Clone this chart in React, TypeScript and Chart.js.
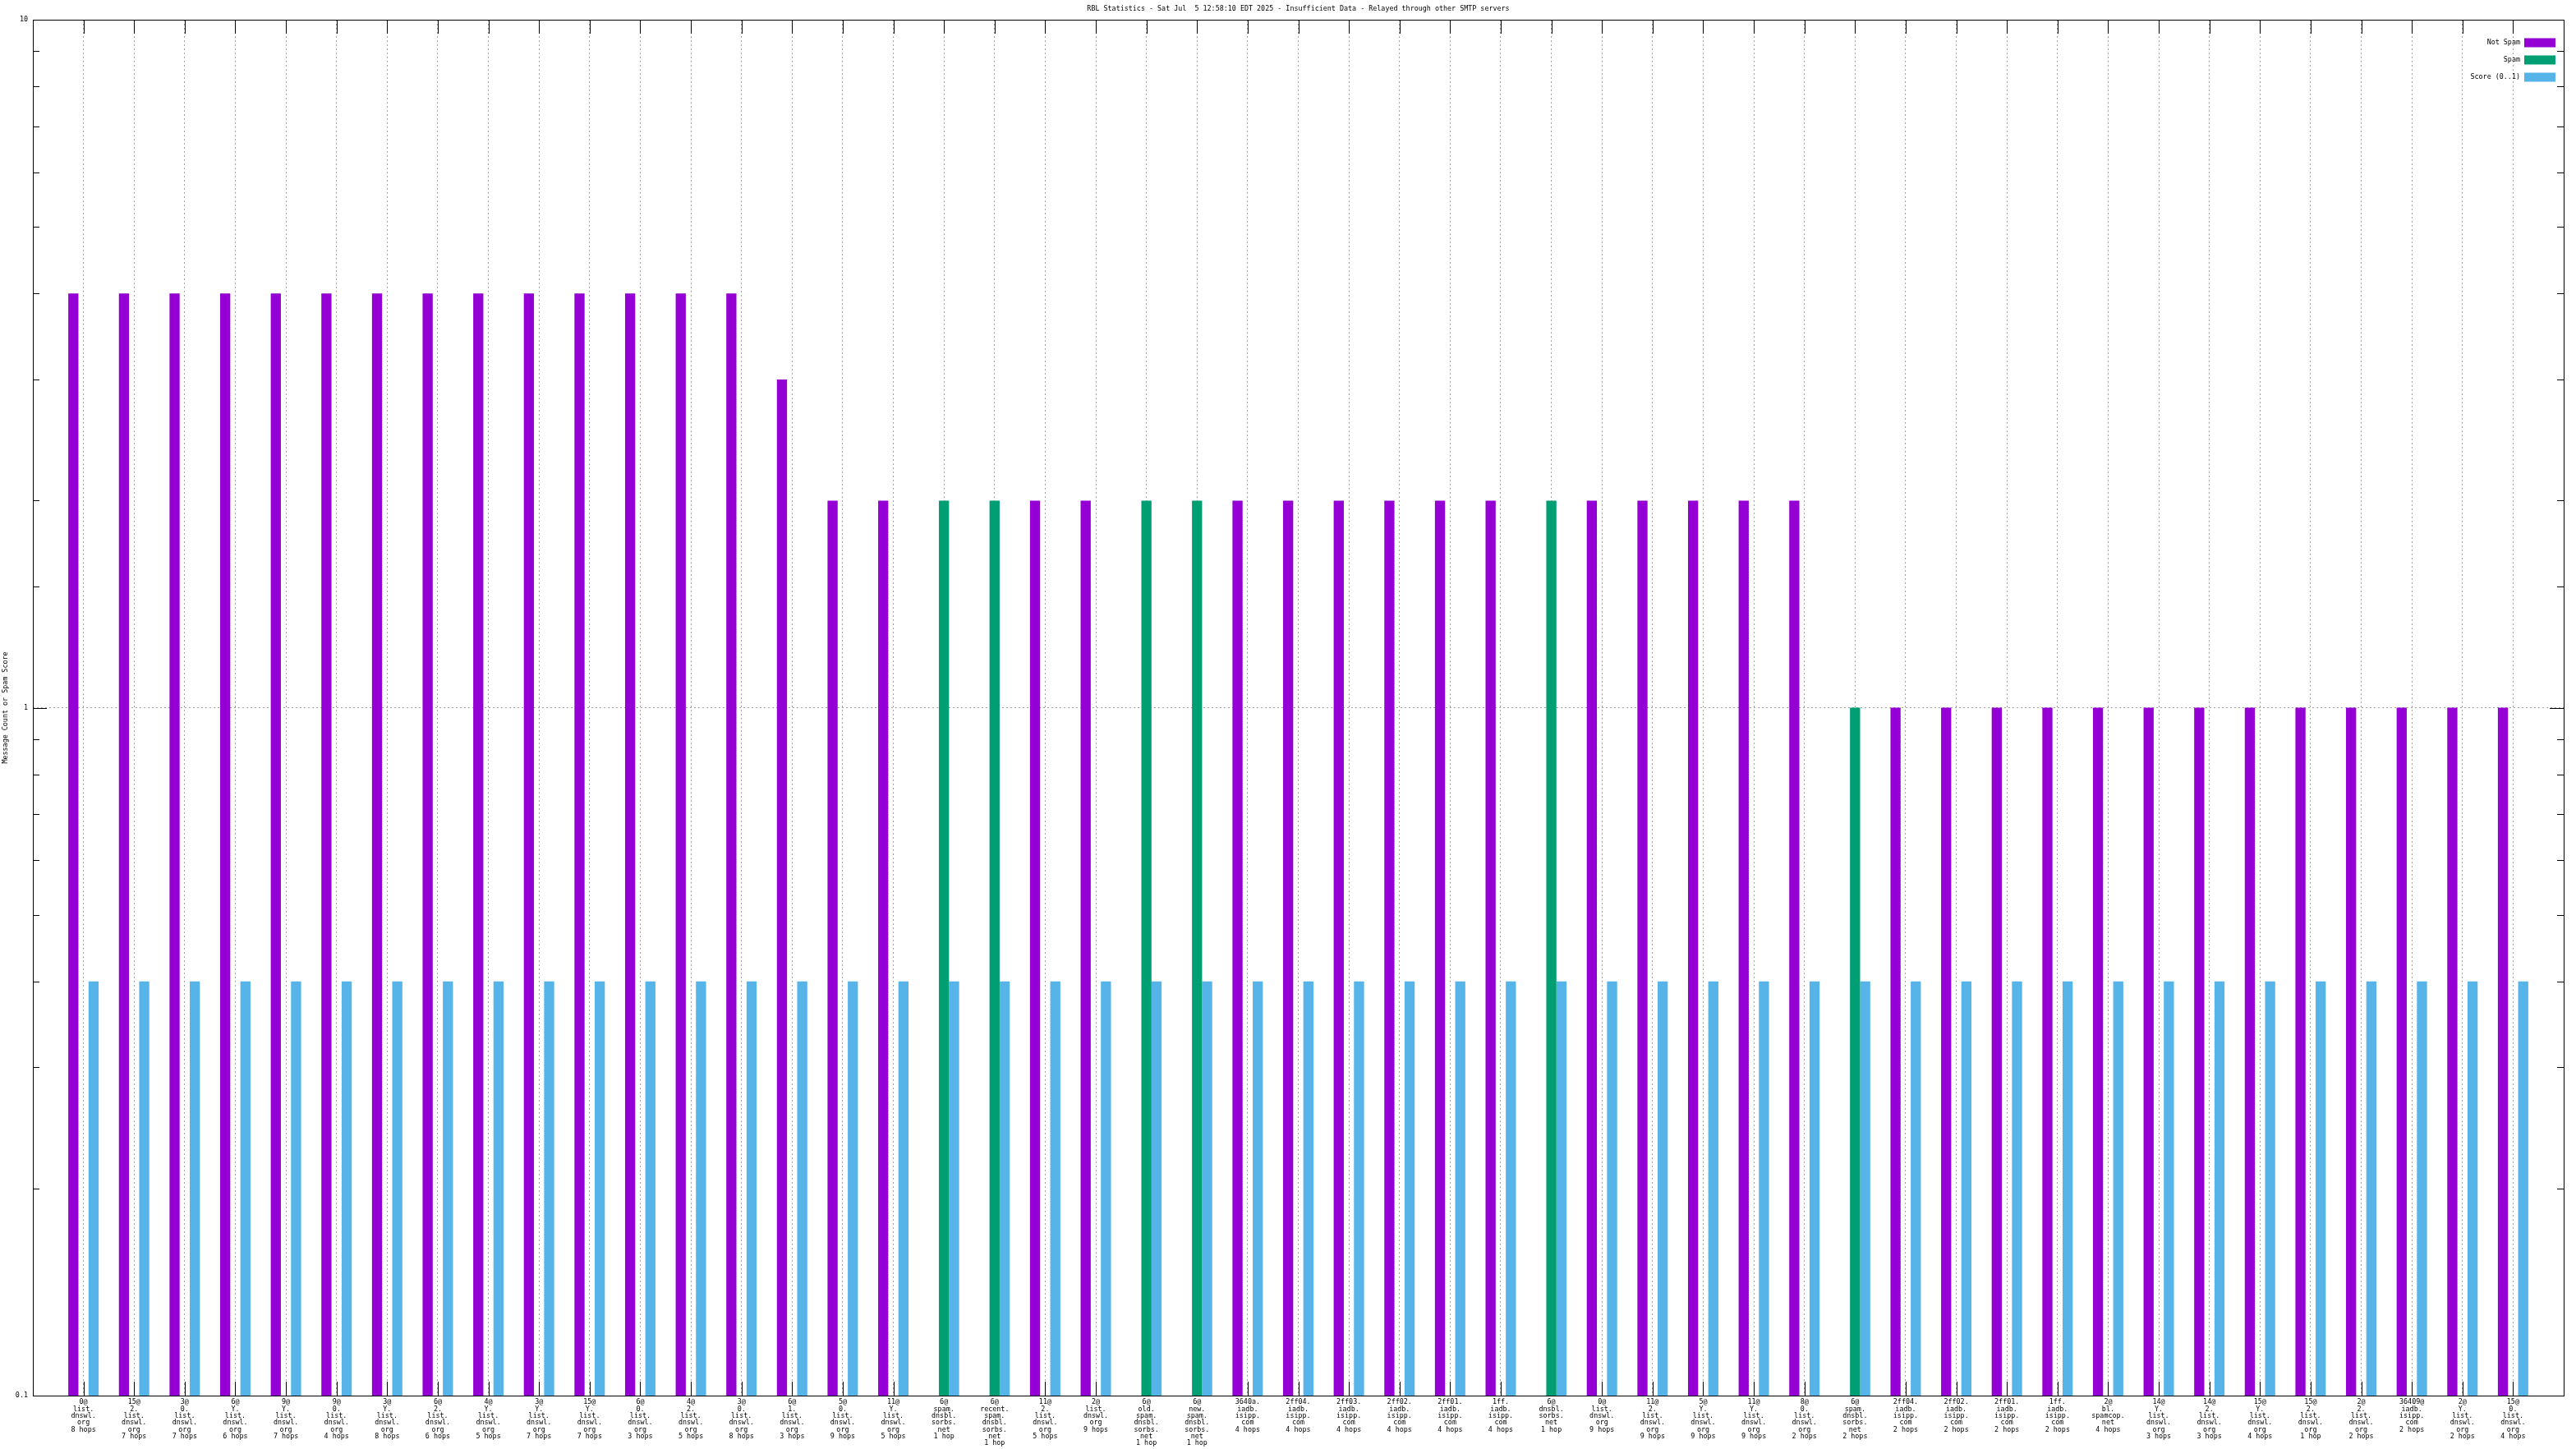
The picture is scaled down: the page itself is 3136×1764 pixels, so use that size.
import React, { useEffect, useRef } from 'react';
import { Chart, registerables } from 'chart.js';

Chart.register(...registerables);

const TITLE = 'RBL Statistics - Sat Jul  5 12:58:10 EDT 2025 - Insufficient Data - Relayed through other SMTP servers';
const Y_TITLE = 'Message Count or Spam Score';
const SERIES_NAMES = ['Not Spam', 'Spam', 'Score (0..1)'];
const SERIES_COLORS = ['#9400D3', '#009E73', '#56B4E9'];

const categories: string[] = [
  '0@\nlist.\ndnswl.\norg\n8 hops',
  '15@\n2.\nlist.\ndnswl.\norg\n7 hops',
  '3@\n0.\nlist.\ndnswl.\norg\n7 hops',
  '6@\nY.\nlist.\ndnswl.\norg\n6 hops',
  '9@\nY.\nlist.\ndnswl.\norg\n7 hops',
  '9@\n0.\nlist.\ndnswl.\norg\n4 hops',
  '3@\nY.\nlist.\ndnswl.\norg\n8 hops',
  '6@\n2.\nlist.\ndnswl.\norg\n6 hops',
  '4@\nY.\nlist.\ndnswl.\norg\n5 hops',
  '3@\nY.\nlist.\ndnswl.\norg\n7 hops',
  '15@\nY.\nlist.\ndnswl.\norg\n7 hops',
  '6@\n0.\nlist.\ndnswl.\norg\n3 hops',
  '4@\n2.\nlist.\ndnswl.\norg\n5 hops',
  '3@\n0.\nlist.\ndnswl.\norg\n8 hops',
  '6@\n1.\nlist.\ndnswl.\norg\n3 hops',
  '5@\n0.\nlist.\ndnswl.\norg\n9 hops',
  '11@\nY.\nlist.\ndnswl.\norg\n5 hops',
  '6@\nspam.\ndnsbl.\nsorbs.\nnet\n1 hop',
  '6@\nrecent.\nspam.\ndnsbl.\nsorbs.\nnet\n1 hop',
  '11@\n2.\nlist.\ndnswl.\norg\n5 hops',
  '2@\nlist.\ndnswl.\norg\n9 hops',
  '6@\nold.\nspam.\ndnsbl.\nsorbs.\nnet\n1 hop',
  '6@\nnew.\nspam.\ndnsbl.\nsorbs.\nnet\n1 hop',
  '3640a.\niadb.\nisipp.\ncom\n4 hops',
  '2ff04.\niadb.\nisipp.\ncom\n4 hops',
  '2ff03.\niadb.\nisipp.\ncom\n4 hops',
  '2ff02.\niadb.\nisipp.\ncom\n4 hops',
  '2ff01.\niadb.\nisipp.\ncom\n4 hops',
  '1ff.\niadb.\nisipp.\ncom\n4 hops',
  '6@\ndnsbl.\nsorbs.\nnet\n1 hop',
  '0@\nlist.\ndnswl.\norg\n9 hops',
  '11@\n2.\nlist.\ndnswl.\norg\n9 hops',
  '5@\nY.\nlist.\ndnswl.\norg\n9 hops',
  '11@\nY.\nlist.\ndnswl.\norg\n9 hops',
  '8@\n0.\nlist.\ndnswl.\norg\n2 hops',
  '6@\nspam.\ndnsbl.\nsorbs.\nnet\n2 hops',
  '2ff04.\niadb.\nisipp.\ncom\n2 hops',
  '2ff02.\niadb.\nisipp.\ncom\n2 hops',
  '2ff01.\niadb.\nisipp.\ncom\n2 hops',
  '1ff.\niadb.\nisipp.\ncom\n2 hops',
  '2@\nbl.\nspamcop.\nnet\n4 hops',
  '14@\nY.\nlist.\ndnswl.\norg\n3 hops',
  '14@\n2.\nlist.\ndnswl.\norg\n3 hops',
  '15@\nY.\nlist.\ndnswl.\norg\n4 hops',
  '15@\n2.\nlist.\ndnswl.\norg\n1 hop',
  '2@\n2.\nlist.\ndnswl.\norg\n2 hops',
  '36409@\niadb.\nisipp.\ncom\n2 hops',
  '2@\nY.\nlist.\ndnswl.\norg\n2 hops',
  '15@\n0.\nlist.\ndnswl.\norg\n4 hops',
];

const notSpam: (number | null)[] = [
  4, 4, 4, 4, 4, 4, 4, 4, 4, 4, 4, 4, 4, 4, 3, 2, 2, null, null, 2,
  2, null, null, 2, 2, 2, 2, 2, 2, null, 2, 2, 2, 2, 2, null, 1, 1, 1, 1,
  1, 1, 1, 1, 1, 1, 1, 1, 1,
];

const spam: (number | null)[] = [
  null, null, null, null, null, null, null, null, null, null, null, null, null, null, null, null, null, 2, 2, null,
  null, 2, 2, null, null, null, null, null, null, 2, null, null, null, null, null, 1, null, null, null, null,
  null, null, null, null, null, null, null, null, null,
];

const score: number[] = [
  0.4, 0.4, 0.4, 0.4, 0.4, 0.4, 0.4, 0.4, 0.4, 0.4, 0.4, 0.4, 0.4, 0.4, 0.4, 0.4, 0.4, 0.4, 0.4, 0.4,
  0.4, 0.4, 0.4, 0.4, 0.4, 0.4, 0.4, 0.4, 0.4, 0.4, 0.4, 0.4, 0.4, 0.4, 0.4, 0.4, 0.4, 0.4, 0.4, 0.4,
  0.4, 0.4, 0.4, 0.4, 0.4, 0.4, 0.4, 0.4, 0.4,
];

const FONT = 'DejaVu Sans Mono';
const FONT_SIZE = 8.4;
const GRID = '#a0a0a0';

const isMajor = (v: number) => {
  const l = Math.log10(v);
  return Math.abs(l - Math.round(l)) < 1e-6;
};

const gnuplotTicks = {
  id: 'gnuplotTicks',
  beforeDatasetsDraw(chart: any) {
    const { ctx, chartArea: a, scales } = chart;
    const x = scales.x;
    const y = scales.y;
    ctx.save();
    ctx.strokeStyle = '#000';
    ctx.lineWidth = 1;
    ctx.setLineDash([]);
    ctx.beginPath();
    categories.forEach((_, i) => {
      const px = Math.round(x.getPixelForValue(i)) + 0.5;
      ctx.moveTo(px, a.bottom);
      ctx.lineTo(px, a.bottom - 17);
      ctx.moveTo(px, a.top);
      ctx.lineTo(px, a.top + 17);
    });
    y.ticks.forEach((t: any) => {
      const len = isMajor(t.value) ? 17 : 8;
      const py = Math.round(y.getPixelForValue(t.value)) + 0.5;
      ctx.moveTo(a.left, py);
      ctx.lineTo(a.left + len, py);
      ctx.moveTo(a.right, py);
      ctx.lineTo(a.right - len, py);
    });
    ctx.stroke();
    ctx.restore();
  },
  afterDraw(chart: any) {
    const { ctx, chartArea: a } = chart;
    ctx.save();
    ctx.strokeStyle = '#000';
    ctx.lineWidth = 1;
    ctx.setLineDash([]);
    const l = Math.round(a.left) + 0.5;
    const t = Math.round(a.top) + 0.5;
    const r = Math.round(a.right) + 0.5;
    const b = Math.round(a.bottom) + 0.5;
    ctx.strokeRect(l, t, r - l, b - t);

    ctx.fillStyle = '#000';
    ctx.font = `${FONT_SIZE}px "${FONT}"`;
    ctx.textAlign = 'center';
    ctx.textBaseline = 'middle';
    ctx.fillText(TITLE, (a.left + a.right) / 2, 11);

    ctx.textAlign = 'right';
    SERIES_NAMES.forEach((name, i) => {
      const cy = a.top + 28 + i * 21;
      ctx.fillStyle = '#000';
      ctx.fillText(name, a.right - 53, cy);
      ctx.fillStyle = SERIES_COLORS[i];
      ctx.fillRect(a.right - 48, cy - 5.5, 38, 11);
    });
    ctx.restore();
  },
};

export default function App() {
  const ref = useRef<HTMLCanvasElement | null>(null);

  useEffect(() => {
    if (!ref.current) return;
    const mk = (arr: (number | null)[]) => arr.map((v, i) => ({ x: i, y: v }));
    const chart = new Chart(ref.current, {
      type: 'bar',
      data: {
        datasets: [
          { label: SERIES_NAMES[0], data: mk(notSpam) as any, backgroundColor: SERIES_COLORS[0], borderWidth: 0 },
          { label: SERIES_NAMES[1], data: mk(spam) as any, backgroundColor: SERIES_COLORS[1], borderWidth: 0 },
          { label: SERIES_NAMES[2], data: mk(score) as any, backgroundColor: SERIES_COLORS[2], borderWidth: 0 },
        ],
      },
      options: {
        responsive: false,
        animation: false,
        devicePixelRatio: 1,
        layout: { padding: { top: 24, right: 15, left: 0, bottom: 0 } },
        datasets: { bar: { categoryPercentage: 0.6, barPercentage: 1.0 } },
        plugins: {
          legend: { display: false },
          tooltip: { enabled: false },
          title: { display: false },
        },
        scales: {
          x: {
            type: 'linear',
            min: -1,
            max: 49,
            offset: false,
            afterBuildTicks: (scale: any) => {
              scale.ticks = categories.map((_, i) => ({ value: i }));
            },
            afterFit: (scale: any) => {
              scale.height = 65;
            },
            grid: { color: GRID, lineWidth: 1, drawTicks: false, offset: false },
            border: { display: false, dash: [2, 3] },
            ticks: {
              autoSkip: false,
              maxRotation: 0,
              minRotation: 0,
              padding: 4,
              color: '#000',
              font: { family: FONT, size: FONT_SIZE, lineHeight: '8.3px' },
              callback: (v: any) => {
                const s = categories[Math.round(Number(v))];
                return s ? s.split('\n') : '';
              },
            },
          },
          y: {
            type: 'logarithmic',
            min: 0.1,
            max: 10,
            afterFit: (scale: any) => {
              scale.width = 40;
            },
            grid: {
              drawTicks: false,
              lineWidth: 1,
              color: (c: any) => (c.tick && Math.abs(c.tick.value - 1) < 1e-9 ? GRID : 'rgba(0,0,0,0)'),
            },
            border: { display: false, dash: [2, 3] },
            title: {
              display: true,
              text: Y_TITLE,
              color: '#000',
              font: { family: FONT, size: FONT_SIZE },
              padding: { top: 2, bottom: 0 },
            },
            ticks: {
              autoSkip: false,
              padding: 6,
              color: '#000',
              font: { family: FONT, size: FONT_SIZE },
              callback: (v: any) => {
                const n = Number(v);
                if (!isMajor(n)) return '';
                if (Math.abs(n - 0.1) < 1e-9) return '0.1';
                if (Math.abs(n - 1) < 1e-9) return '1';
                if (Math.abs(n - 10) < 1e-9) return '10';
                return '';
              },
            },
          },
        },
      },
      plugins: [gnuplotTicks],
    });
    return () => chart.destroy();
  }, []);

  return (
    <div style={{ position: 'fixed', left: 0, top: 0, width: 3136, height: 1764, background: '#fff' }}>
      <canvas ref={ref} width={3136} height={1764} style={{ display: 'block' }} />
    </div>
  );
}
